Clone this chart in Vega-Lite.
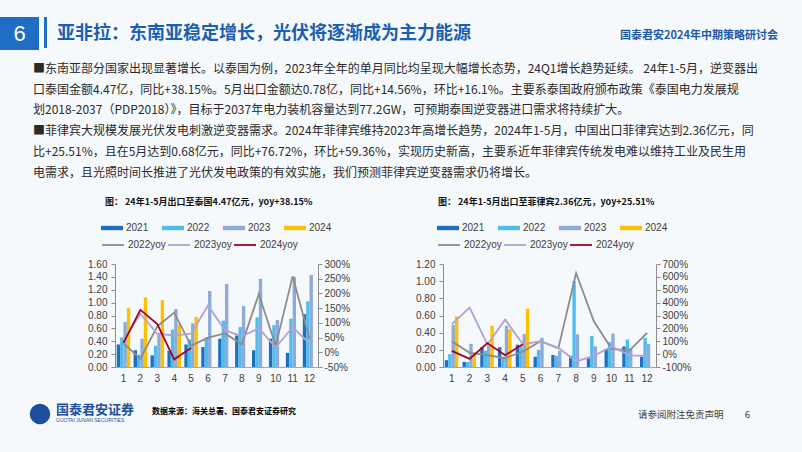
{
  "$schema": "https://vega.github.io/schema/vega-lite/v6.json",
  "background": "#f6f9fc",
  "padding": {"left": 0, "top": 17, "right": 30, "bottom": 26},
  "autosize": {"type": "pad"},
  "config": {
    "view": {"stroke": null},
    "font": "Noto Sans CJK SC",
    "axis": {"labelFont": "Liberation Sans", "labelFontSize": 10, "labelColor": "#404040", "domainColor": "#8c8c8c", "tickColor": "#8c8c8c", "grid": false, "title": null},
    "legend": {"labelFont": "Liberation Sans", "labelFontSize": 10, "labelColor": "#404040"}
  },
  "datasets": {
    "thBars": [
      {"month": 1, "year": "2021", "value": 0.35}, {"month": 1, "year": "2022", "value": 0.46}, {"month": 1, "year": "2023", "value": 0.70}, {"month": 1, "year": "2024", "value": 0.92},
      {"month": 2, "year": "2021", "value": 0.26}, {"month": 2, "year": "2022", "value": 0.19}, {"month": 2, "year": "2023", "value": 0.44}, {"month": 2, "year": "2024", "value": 1.08},
      {"month": 3, "year": "2021", "value": 0.18}, {"month": 3, "year": "2022", "value": 0.33}, {"month": 3, "year": "2023", "value": 0.53}, {"month": 3, "year": "2024", "value": 1.04},
      {"month": 4, "year": "2021", "value": 0.25}, {"month": 4, "year": "2022", "value": 0.58}, {"month": 4, "year": "2023", "value": 0.90}, {"month": 4, "year": "2024", "value": 0.66},
      {"month": 5, "year": "2021", "value": 0.35}, {"month": 5, "year": "2022", "value": 0.43}, {"month": 5, "year": "2023", "value": 0.68}, {"month": 5, "year": "2024", "value": 0.78},
      {"month": 6, "year": "2021", "value": 0.31}, {"month": 6, "year": "2022", "value": 0.46}, {"month": 6, "year": "2023", "value": 1.18},
      {"month": 7, "year": "2021", "value": 0.44}, {"month": 7, "year": "2022", "value": 0.72}, {"month": 7, "year": "2023", "value": 1.29},
      {"month": 8, "year": "2021", "value": 0.49}, {"month": 8, "year": "2022", "value": 0.62}, {"month": 8, "year": "2023", "value": 0.95},
      {"month": 9, "year": "2021", "value": 0.26}, {"month": 9, "year": "2022", "value": 0.77}, {"month": 9, "year": "2023", "value": 1.37},
      {"month": 10, "year": "2021", "value": 0.44}, {"month": 10, "year": "2022", "value": 0.65}, {"month": 10, "year": "2023", "value": 0.73},
      {"month": 11, "year": "2021", "value": 0.22}, {"month": 11, "year": "2022", "value": 0.75}, {"month": 11, "year": "2023", "value": 1.40},
      {"month": 12, "year": "2021", "value": 0.82}, {"month": 12, "year": "2022", "value": 1.02}, {"month": 12, "year": "2023", "value": 1.43}
    ],
    "thYoy": [
      {"month": 1, "series": "2022yoy", "yoy": 30}, {"month": 2, "series": "2022yoy", "yoy": -22}, {"month": 3, "series": "2022yoy", "yoy": 88}, {"month": 4, "series": "2022yoy", "yoy": 135},
      {"month": 5, "series": "2022yoy", "yoy": 22}, {"month": 6, "series": "2022yoy", "yoy": 50}, {"month": 7, "series": "2022yoy", "yoy": 64}, {"month": 8, "series": "2022yoy", "yoy": 27},
      {"month": 9, "series": "2022yoy", "yoy": 198}, {"month": 10, "series": "2022yoy", "yoy": 22}, {"month": 11, "series": "2022yoy", "yoy": 258}, {"month": 12, "series": "2022yoy", "yoy": 46},
      {"month": 1, "series": "2023yoy", "yoy": 38}, {"month": 2, "series": "2023yoy", "yoy": 131}, {"month": 3, "series": "2023yoy", "yoy": 63}, {"month": 4, "series": "2023yoy", "yoy": 57},
      {"month": 5, "series": "2023yoy", "yoy": 63}, {"month": 6, "series": "2023yoy", "yoy": 159}, {"month": 7, "series": "2023yoy", "yoy": 75}, {"month": 8, "series": "2023yoy", "yoy": 54},
      {"month": 9, "series": "2023yoy", "yoy": 81}, {"month": 10, "series": "2023yoy", "yoy": 17}, {"month": 11, "series": "2023yoy", "yoy": 85}, {"month": 12, "series": "2023yoy", "yoy": 30},
      {"month": 1, "series": "2024yoy", "yoy": 32}, {"month": 2, "series": "2024yoy", "yoy": 144}, {"month": 3, "series": "2024yoy", "yoy": 96}, {"month": 4, "series": "2024yoy", "yoy": -24},
      {"month": 5, "series": "2024yoy", "yoy": 15}
    ],
    "phBars": [
      {"month": 1, "year": "2021", "value": 0.08}, {"month": 1, "year": "2022", "value": 0.15}, {"month": 1, "year": "2023", "value": 0.49}, {"month": 1, "year": "2024", "value": 0.59},
      {"month": 2, "year": "2021", "value": 0.06}, {"month": 2, "year": "2022", "value": 0.06}, {"month": 2, "year": "2023", "value": 0.27}, {"month": 2, "year": "2024", "value": 0.17},
      {"month": 3, "year": "2021", "value": 0.23}, {"month": 3, "year": "2022", "value": 0.19}, {"month": 3, "year": "2023", "value": 0.25}, {"month": 3, "year": "2024", "value": 0.48},
      {"month": 4, "year": "2021", "value": 0.23}, {"month": 4, "year": "2022", "value": 0.12}, {"month": 4, "year": "2023", "value": 0.48}, {"month": 4, "year": "2024", "value": 0.44},
      {"month": 5, "year": "2021", "value": 0.26}, {"month": 5, "year": "2022", "value": 0.24}, {"month": 5, "year": "2023", "value": 0.385}, {"month": 5, "year": "2024", "value": 0.68},
      {"month": 6, "year": "2021", "value": 0.12}, {"month": 6, "year": "2022", "value": 0.20}, {"month": 6, "year": "2023", "value": 0.34},
      {"month": 7, "year": "2021", "value": 0.14}, {"month": 7, "year": "2022", "value": 0.13}, {"month": 7, "year": "2023", "value": 0.19},
      {"month": 8, "year": "2021", "value": 0.13}, {"month": 8, "year": "2022", "value": 1.00}, {"month": 8, "year": "2023", "value": 0.38},
      {"month": 9, "year": "2021", "value": 0.10}, {"month": 9, "year": "2022", "value": 0.36}, {"month": 9, "year": "2023", "value": 0.24},
      {"month": 10, "year": "2021", "value": 0.21}, {"month": 10, "year": "2022", "value": 0.29}, {"month": 10, "year": "2023", "value": 0.39},
      {"month": 11, "year": "2021", "value": 0.24}, {"month": 11, "year": "2022", "value": 0.32}, {"month": 11, "year": "2023", "value": 0.22},
      {"month": 12, "year": "2021", "value": 0.12}, {"month": 12, "year": "2022", "value": 0.34}, {"month": 12, "year": "2023", "value": 0.27}
    ],
    "phYoy": [
      {"month": 1, "series": "2022yoy", "yoy": 100}, {"month": 2, "series": "2022yoy", "yoy": 10}, {"month": 3, "series": "2022yoy", "yoy": -8}, {"month": 4, "series": "2022yoy", "yoy": -32},
      {"month": 5, "series": "2022yoy", "yoy": 20}, {"month": 6, "series": "2022yoy", "yoy": 100}, {"month": 7, "series": "2022yoy", "yoy": 45}, {"month": 8, "series": "2022yoy", "yoy": 630},
      {"month": 9, "series": "2022yoy", "yoy": 255}, {"month": 10, "series": "2022yoy", "yoy": 40}, {"month": 11, "series": "2022yoy", "yoy": 28}, {"month": 12, "series": "2022yoy", "yoy": 165},
      {"month": 1, "series": "2023yoy", "yoy": 232}, {"month": 2, "series": "2023yoy", "yoy": 362}, {"month": 3, "series": "2023yoy", "yoy": 75}, {"month": 4, "series": "2023yoy", "yoy": 268},
      {"month": 5, "series": "2023yoy", "yoy": 76}, {"month": 6, "series": "2023yoy", "yoy": 100}, {"month": 7, "series": "2023yoy", "yoy": 50}, {"month": 8, "series": "2023yoy", "yoy": -57},
      {"month": 9, "series": "2023yoy", "yoy": -13}, {"month": 10, "series": "2023yoy", "yoy": 60}, {"month": 11, "series": "2023yoy", "yoy": -10}, {"month": 12, "series": "2023yoy", "yoy": -13},
      {"month": 1, "series": "2024yoy", "yoy": 25}, {"month": 2, "series": "2024yoy", "yoy": -37}, {"month": 3, "series": "2024yoy", "yoy": 86}, {"month": 4, "series": "2024yoy", "yoy": -9},
      {"month": 5, "series": "2024yoy", "yoy": 77}
    ]
  },
  "title": {"text": "亚非拉：东南亚稳定增长，光伏将逐渐成为主力能源", "anchor": "start", "frame": "group", "orient": "top", "offset": 0, "dx": 57, "dy": 26, "fontSize": 18, "fontWeight": "bold", "color": "#1b5fb0", "font": "Noto Sans CJK SC", "limit": 800},
  "bounds": "flush",
  "spacing": 247,
  "resolve": {"scale": {"fill": "independent", "stroke": "independent", "strokeWidth": "independent"}, "legend": {"fill": "independent", "stroke": "independent"}},
  "vconcat": [
    {
      "bounds": "flush",
      "spacing": 5,
      "title": {
        "text": [
          "■东南亚部分国家出现显著增长。以泰国为例，2023年全年的单月同比均呈现大幅增长态势，24Q1增长趋势延续。 24年1-5月，逆变器出",
          "　口泰国金额4.47亿，同比+38.15%。5月出口金额达0.78亿，同比+14.56%，环比+16.1%。主要系泰国政府颁布政策《泰国电力发展规",
          "　划2018-2037（PDP2018）》，目标于2037年电力装机容量达到77.2GW，可预期泰国逆变器进口需求将持续扩大。",
          "■菲律宾大规模发展光伏发电刺激逆变器需求。2024年菲律宾维持2023年高增长趋势，2024年1-5月，中国出口菲律宾达到2.36亿元，同",
          "　比+25.51%，且在5月达到0.68亿元，同比+76.72%，环比+59.36%，实现历史新高，主要系近年菲律宾传统发电难以维持工业及民生用",
          "　电需求，且光照时间长推进了光伏发电政策的有效实施，我们预测菲律宾逆变器需求仍将增长。"
        ],
        "orient": "bottom", "anchor": "start", "frame": "group", "dx": 33, "offset": 14,
        "fontSize": 12, "lineHeight": 20.7, "fontWeight": "normal", "color": "#2b2b2b", "font": "Noto Sans CJK SC", "limit": 900
      },
      "hconcat": [
        {
          "width": 39, "height": 33,
          "view": {"fill": "#1f6dc4", "stroke": null},
          "data": {"values": [{"page": "6"}]},
          "mark": {"type": "text", "color": "#ffffff", "fontSize": 22, "font": "Liberation Sans", "baseline": "middle", "align": "center"},
          "encoding": {"text": {"field": "page"}}
        },
        {
          "width": 3, "height": 31,
          "view": {"fill": "#1f6dc4", "stroke": null},
          "data": {"values": [{"event": ""}]},
          "mark": {"type": "text"},
          "encoding": {"text": {"field": "event"}},
          "title": {"text": "国泰君安2024年中期策略研讨会", "anchor": "start", "frame": "group", "orient": "top", "offset": 0, "dx": 576, "dy": 24, "fontSize": 11, "fontWeight": "bold", "color": "#1d5aa8", "font": "Noto Sans CJK SC", "limit": 400}
        }
      ]
    },
    {
      "bounds": "flush",
      "spacing": 138,
      "resolve": {"scale": {"fill": "independent", "stroke": "independent", "strokeWidth": "independent"}, "legend": {"fill": "independent", "stroke": "independent"}},
      "vconcat": [
        {
          "bounds": "flush",
          "spacing": 0,
          "resolve": {"scale": {"fill": "independent", "stroke": "independent", "strokeWidth": "independent"}, "legend": {"fill": "independent", "stroke": "independent"}},
          "title": {"text": "数据来源：海关总署、国泰君安证券研究", "orient": "bottom", "anchor": "start", "frame": "group", "dx": 152, "offset": 25, "fontSize": 8, "fontWeight": "bold", "color": "#000000", "font": "Noto Sans CJK SC", "limit": 400},
          "hconcat": [
            {"width": 115, "height": 103, "data": {"values": []}, "mark": "point"},
            {
              "width": 203, "height": 103,
              "title": {"text": "图： 24年1-5月出口至泰国4.47亿元，yoy+38.15%", "anchor": "start", "frame": "group", "dx": -10, "offset": 10, "fontSize": 9, "fontWeight": "bold", "color": "#111111", "font": "Noto Sans CJK SC", "limit": 400},
              "layer": [
                {
                  "data": {"name": "thBars"},
                  "mark": {"type": "bar"},
                  "encoding": {
                    "x": {"field": "month", "type": "ordinal", "scale": {"paddingInner": 0.2, "paddingOuter": 0.1}, "axis": {"labelAngle": 0, "ticks": false, "labelPadding": 6, "domainColor": "#a6a6a6"}},
                    "xOffset": {"field": "year", "type": "nominal", "scale": {"domain": ["2021", "2022", "2023", "2024"]}},
                    "y": {"field": "value", "type": "quantitative", "scale": {"domain": [0, 1.6], "nice": false}, "axis": {"orient": "left", "values": [0, 0.2, 0.4, 0.6, 0.8, 1.0, 1.2, 1.4, 1.6], "format": ".2f", "tickSize": 4, "labelPadding": 4}},
                    "fill": {"field": "year", "type": "nominal", "scale": {"domain": ["2021", "2022", "2023", "2024"], "range": ["#1f6fc0", "#4fbdec", "#8eaad8", "#ffc000"]},
                      "legend": {"title": null, "orient": "none", "legendX": -14, "legendY": -47, "direction": "horizontal", "columns": 4, "symbolType": "M-1,-0.2H1V0.2H-1Z", "symbolSize": 484, "symbolStrokeWidth": 0, "columnPadding": 13, "labelOffset": 3, "padding": 0}}
                  }
                },
                {
                  "data": {"name": "thYoy"},
                  "mark": {"type": "line"},
                  "encoding": {
                    "x": {"field": "month", "type": "ordinal"},
                    "y": {"field": "yoy", "type": "quantitative", "scale": {"domain": [-50, 300], "nice": false}, "axis": {"orient": "right", "values": [-50, 0, 50, 100, 150, 200, 250, 300], "labelExpr": "datum.value + '%'", "tickSize": 4, "labelPadding": 2}},
                    "stroke": {"field": "series", "type": "nominal", "scale": {"domain": ["2022yoy", "2023yoy", "2024yoy"], "range": ["#8c8c8c", "#b3a2d3", "#a50021"]},
                      "legend": {"title": null, "orient": "none", "legendX": -14, "legendY": -31, "direction": "horizontal", "columns": 3, "symbolType": "stroke", "symbolSize": 484, "symbolStrokeWidth": 1.5, "columnPadding": -2, "labelOffset": 3, "padding": 0}},
                    "strokeWidth": {"field": "series", "type": "nominal", "scale": {"domain": ["2022yoy", "2023yoy", "2024yoy"], "range": [1.8, 1.8, 2.4]}, "legend": null}
                  }
                }
              ],
              "resolve": {"scale": {"y": "independent"}}
            },
            {"width": 125, "height": 103, "data": {"values": []}, "mark": "point"},
            {
              "width": 213, "height": 103,
              "title": {"text": "图： 24年1-5月出口至菲律宾2.36亿元，yoy+25.51%", "anchor": "start", "frame": "group", "dx": -5, "offset": 10, "fontSize": 9, "fontWeight": "bold", "color": "#111111", "font": "Noto Sans CJK SC", "limit": 400},
              "layer": [
                {
                  "data": {"name": "phBars"},
                  "mark": {"type": "bar"},
                  "encoding": {
                    "x": {"field": "month", "type": "ordinal", "scale": {"paddingInner": 0.2, "paddingOuter": 0.1}, "axis": {"labelAngle": 0, "ticks": false, "labelPadding": 6, "domainColor": "#a6a6a6"}},
                    "xOffset": {"field": "year", "type": "nominal", "scale": {"domain": ["2021", "2022", "2023", "2024"]}},
                    "y": {"field": "value", "type": "quantitative", "scale": {"domain": [0, 1.2], "nice": false}, "axis": {"orient": "left", "values": [0, 0.2, 0.4, 0.6, 0.8, 1.0, 1.2], "format": ".2f", "tickSize": 4, "labelPadding": 4}},
                    "fill": {"field": "year", "type": "nominal", "scale": {"domain": ["2021", "2022", "2023", "2024"], "range": ["#1f6fc0", "#4fbdec", "#8eaad8", "#ffc000"]},
                      "legend": {"title": null, "orient": "none", "legendX": -6, "legendY": -47, "direction": "horizontal", "columns": 4, "symbolType": "M-1,-0.2H1V0.2H-1Z", "symbolSize": 484, "symbolStrokeWidth": 0, "columnPadding": 13, "labelOffset": 3, "padding": 0}}
                  }
                },
                {
                  "data": {"name": "phYoy"},
                  "mark": {"type": "line"},
                  "encoding": {
                    "x": {"field": "month", "type": "ordinal"},
                    "y": {"field": "yoy", "type": "quantitative", "scale": {"domain": [-100, 700], "nice": false}, "axis": {"orient": "right", "values": [-100, 0, 100, 200, 300, 400, 500, 600, 700], "labelExpr": "datum.value + '%'", "tickSize": 4, "labelPadding": 2}},
                    "stroke": {"field": "series", "type": "nominal", "scale": {"domain": ["2022yoy", "2023yoy", "2024yoy"], "range": ["#8c8c8c", "#b3a2d3", "#a50021"]},
                      "legend": {"title": null, "orient": "none", "legendX": -6, "legendY": -31, "direction": "horizontal", "columns": 3, "symbolType": "stroke", "symbolSize": 484, "symbolStrokeWidth": 1.5, "columnPadding": -2, "labelOffset": 3, "padding": 0}},
                    "strokeWidth": {"field": "series", "type": "nominal", "scale": {"domain": ["2022yoy", "2023yoy", "2024yoy"], "range": [1.8, 1.8, 2.4]}, "legend": null}
                  }
                }
              ],
              "resolve": {"scale": {"y": "independent"}}
            }
          ]
        },
        {
          "bounds": "flush",
          "title": {"text": "请参阅附注免责声明　　   6", "anchor": "start", "frame": "group", "orient": "top", "offset": 0, "dx": 638, "dy": 17, "fontSize": 9.5, "fontWeight": "normal", "color": "#404040", "font": "Noto Sans CJK SC", "limit": 400},
          "hconcat": [
            {
              "width": 80, "height": 24,
              "data": {"values": [{"brand": "国泰君安证券"}]},
              "mark": {"type": "point", "filled": true, "size": 420, "color": "#1d4f9c", "opacity": 1},
              "encoding": {},
              "title": {"text": "国泰君安证券", "subtitle": "GUOTAI JUNAN SECURITIES", "anchor": "start", "frame": "group", "orient": "top", "offset": 0, "dx": 56, "dy": 21, "fontSize": 13, "fontWeight": "bold", "color": "#1d4f9c", "font": "Noto Sans CJK SC", "subtitleFontSize": 5, "subtitleColor": "#1d4f9c", "subtitleFont": "Liberation Sans", "subtitlePadding": 1, "limit": 300}
            }
          ]
        }
      ]
    }
  ]
}
